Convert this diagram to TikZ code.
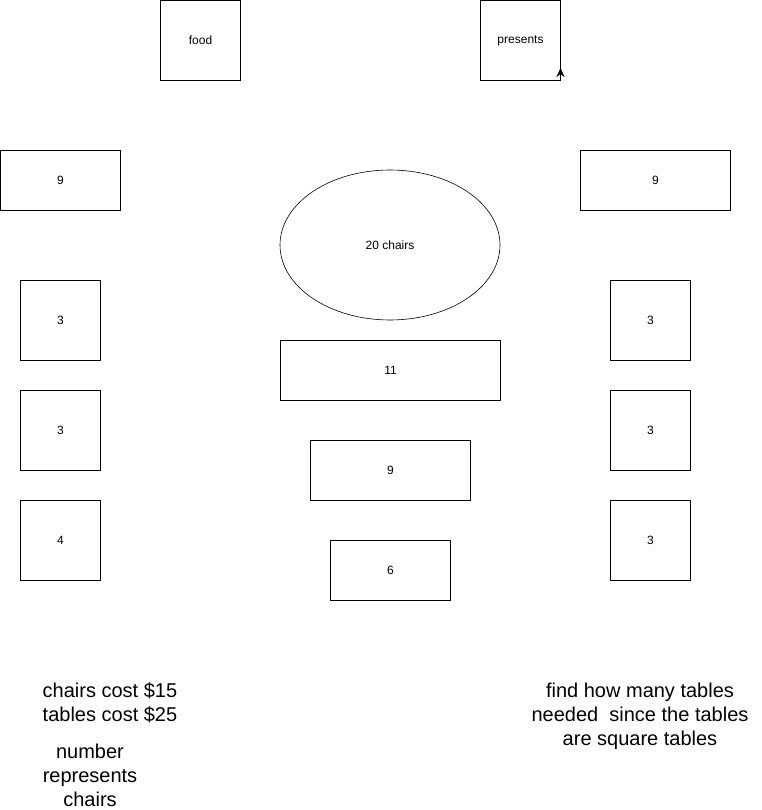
\documentclass[tikz,border=0pt]{standalone}
\usepackage{fontspec}
\setmainfont{Liberation Sans}
\usetikzlibrary{arrows.meta,shapes.geometric}
\begin{document}
\begin{tikzpicture}[x=1pt,y=-1pt,
  box/.style={draw,line width=0.6pt,inner sep=0pt,font=\fontsize{12}{14}\selectfont},
  note/.style={align=center,font=\fontsize{20}{24}\selectfont}]
\useasboundingbox (0,0) rectangle (761,810);
\newcommand\bx[6]{\node[box,minimum width=#4pt,minimum height=#5pt] (#1) at (#2+#4/2,#3+#5/2) {#6};}
\bx{food}{160.5}{0.5}{80}{80}{food}
\bx{pres}{480.5}{0.5}{80}{80}{presents}
\bx{l9}{0.5}{150.5}{120}{60}{9}
\bx{r9}{580.5}{150.5}{150}{60}{9}
\node[box,ellipse,minimum width=220pt,minimum height=150pt] (ch) at (390,245) {20 chairs};
\bx{l3a}{20.5}{280.5}{80}{80}{3}
\bx{l3b}{20.5}{390.5}{80}{80}{3}
\bx{l4}{20.5}{500.5}{80}{80}{4}
\bx{r3a}{610.5}{280.5}{80}{80}{3}
\bx{r3b}{610.5}{390.5}{80}{80}{3}
\bx{r3c}{610.5}{500.5}{80}{80}{3}
\bx{c11}{280.5}{340.5}{220}{60}{11}
\bx{c9}{310.5}{440.5}{160}{60}{9}
\bx{c6}{330.5}{540.5}{120}{60}{6}
\coordinate (pa) at (560.5,80);
\coordinate (pb) at (560.5,68);
\draw[-{Stealth[length=9pt,width=8pt]},line width=0.6pt] (pa) -- (pb);
\node[note] (n1) at (110,703) {chairs cost \$15\\tables cost \$25};
\node[note] (n2) at (90,775) {number\\represents\\chairs};
\node[note] (n3) at (640,716) {find how many tables\\needed\ \ since the tables\\are square tables};
\end{tikzpicture}
\end{document}
